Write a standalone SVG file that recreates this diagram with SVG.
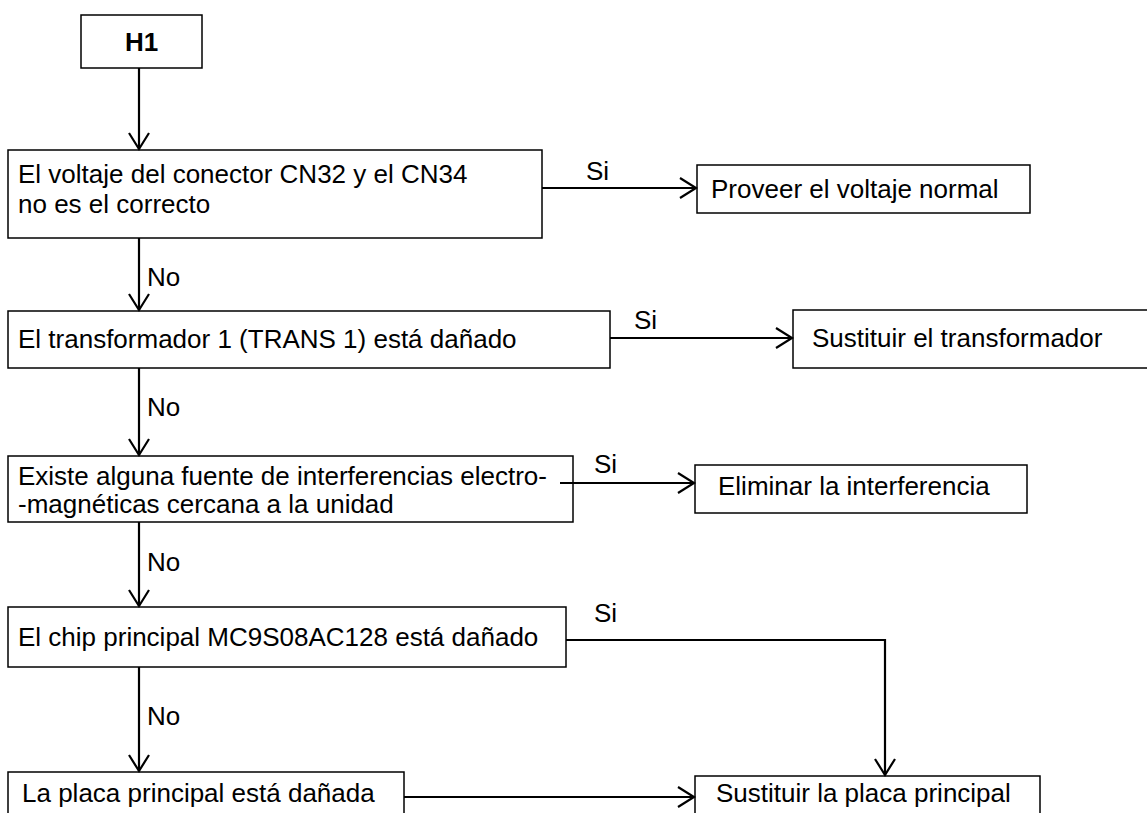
<svg xmlns="http://www.w3.org/2000/svg" width="1147" height="813" viewBox="0 0 1147 813">
<defs>
<marker id="arr" markerWidth="20" markerHeight="24" refX="17" refY="11" orient="auto" markerUnits="userSpaceOnUse">
<path d="M1,1 L17,11 L1,21" fill="none" stroke="#000" stroke-width="2.2"/>
</marker>
<style>
.box{fill:#fff;stroke:#000;stroke-width:1.5}
.t{font-family:"Liberation Sans",Arial,sans-serif;font-size:26px;fill:#000}
.b{font-weight:bold}
.c{fill:none;stroke:#000;stroke-width:2.2}
</style>
</defs>
<rect width="1147" height="813" fill="#fff"/>
<g id="h1"><rect class="box" x="81" y="15" width="121" height="53"/><text class="t b" x="141.5" y="51" text-anchor="middle">H1</text></g>
<g id="q1"><rect class="box" x="8" y="150" width="534" height="88"/><text class="t" x="18" y="183">El voltaje del conector CN32 y el CN34</text><text class="t" x="18" y="213">no es el correcto</text></g>
<g id="a1"><rect class="box" x="697" y="165" width="333" height="48"/><text class="t" x="711" y="198">Proveer el voltaje normal</text></g>
<g id="q2"><rect class="box" x="8" y="311" width="602" height="57"/><text class="t" x="18" y="348">El transformador 1 (TRANS 1) está dañado</text></g>
<g id="a2"><rect class="box" x="793" y="310" width="360" height="58"/><text class="t" x="812" y="347">Sustituir el transformador</text></g>
<g id="q3"><rect class="box" x="8" y="456" width="565" height="66"/><text class="t" x="18" y="485">Existe alguna fuente de interferencias electro-</text><text class="t" x="18" y="513">-magnéticas cercana a la unidad</text></g>
<g id="a3"><rect class="box" x="695" y="465" width="332" height="48"/><text class="t" x="718" y="495">Eliminar la interferencia</text></g>
<g id="q4"><rect class="box" x="8" y="607" width="558" height="60"/><text class="t" x="18" y="646">El chip principal MC9S08AC128 está dañado</text></g>
<g id="q5"><rect class="box" x="8" y="772" width="396" height="60"/><text class="t" x="22" y="802">La placa principal está dañada</text></g>
<g id="a5"><rect class="box" x="695" y="776" width="345" height="60"/><text class="t" x="716" y="802">Sustituir la placa principal</text></g>
<g id="connectors">
<line class="c" x1="139" y1="68" x2="139" y2="149" marker-end="url(#arr)"/>
<line class="c" x1="139" y1="238" x2="139" y2="310" marker-end="url(#arr)"/>
<line class="c" x1="139" y1="368" x2="139" y2="455" marker-end="url(#arr)"/>
<line class="c" x1="139" y1="522" x2="139" y2="606" marker-end="url(#arr)"/>
<line class="c" x1="139" y1="667" x2="139" y2="771" marker-end="url(#arr)"/>
<line class="c" x1="542" y1="188" x2="696" y2="188" marker-end="url(#arr)"/>
<line class="c" x1="610" y1="338" x2="792" y2="338" marker-end="url(#arr)"/>
<line class="c" x1="560" y1="483" x2="694" y2="483" marker-end="url(#arr)"/>
<polyline class="c" points="566,640 885,640 885,775" marker-end="url(#arr)"/>
<line class="c" x1="404" y1="797" x2="694" y2="797" marker-end="url(#arr)"/>
<text class="t" x="586" y="180">Si</text>
<text class="t" x="634" y="329">Si</text>
<text class="t" x="594" y="473">Si</text>
<text class="t" x="594" y="622">Si</text>
<text class="t" x="147" y="286">No</text>
<text class="t" x="147" y="416">No</text>
<text class="t" x="147" y="571">No</text>
<text class="t" x="147" y="725">No</text>
</g>
</svg>
